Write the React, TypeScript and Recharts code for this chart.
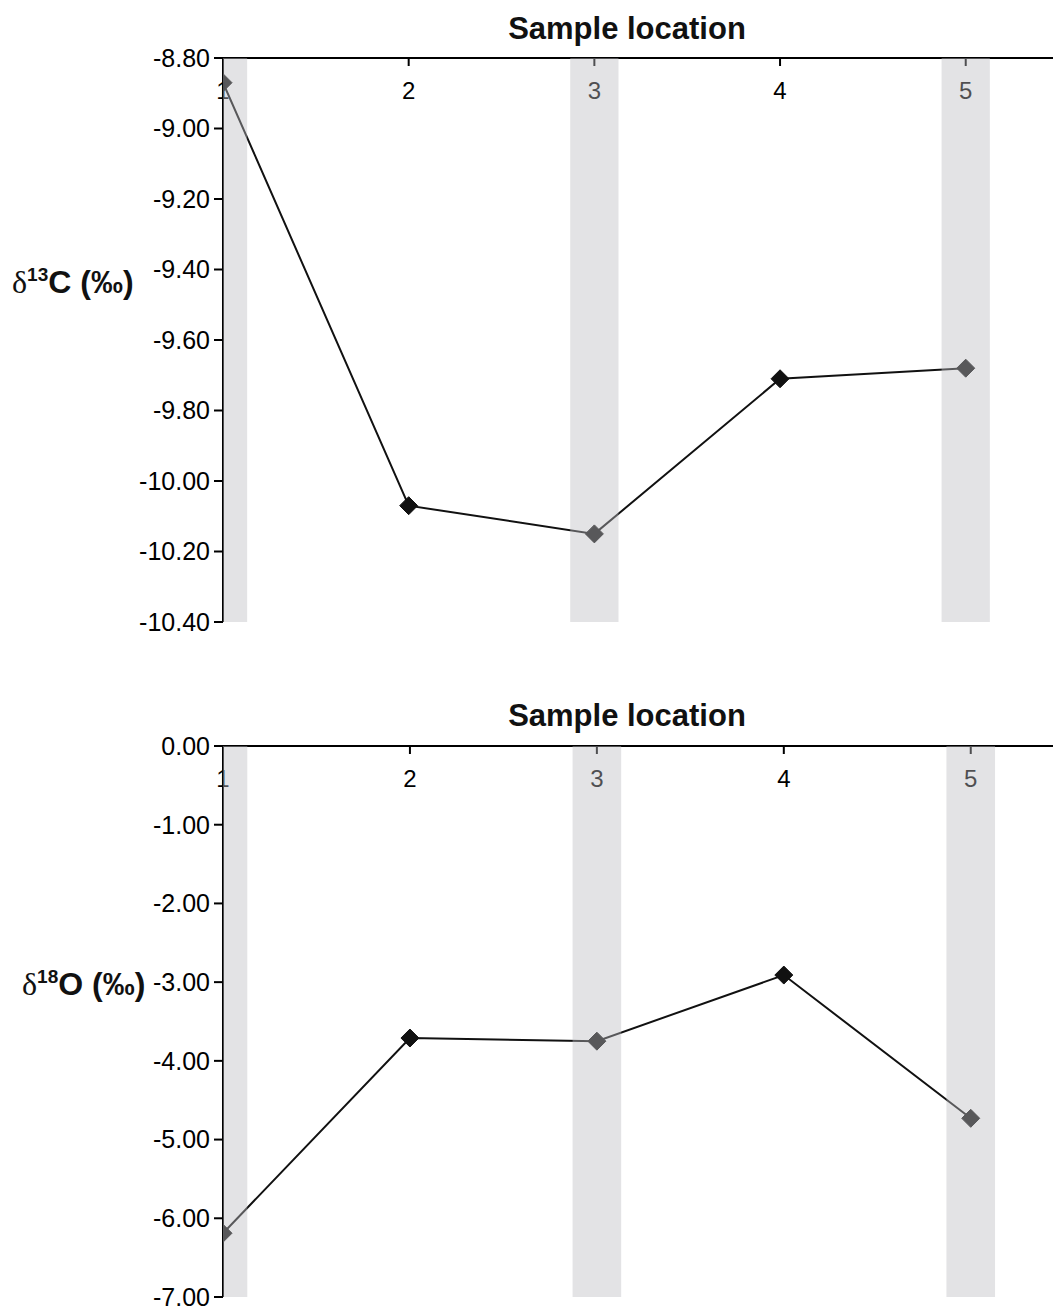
import React from "react";
import { LineChart, Line, XAxis, YAxis, ReferenceArea } from "recharts";

const sites = [1, 2, 3, 4, 5];
const carbon = [-8.87, -10.07, -10.15, -9.71, -9.68];
const oxygen = [-6.19, -3.71, -3.75, -2.91, -4.73];
const carbonTicks = [-8.8, -9.0, -9.2, -9.4, -9.6, -9.8, -10.0, -10.2, -10.4];
const oxygenTicks = [0, -1, -2, -3, -4, -5, -6, -7];
const shadedSites = [1, 3, 5];
const bandHalf = 0.13;

const FONT = "'Liberation Sans', Arial, sans-serif";

const carbonData = sites.map((s, i) => ({ site: s, v: carbon[i] }));
const oxygenData = sites.map((s, i) => ({ site: s, v: oxygen[i] }));

// diamond marker
const Diamond = (props: any) => {
  const { cx, cy } = props;
  if (cx == null || cy == null) return null;
  const r = 9;
  return (
    <path
      d={`M${cx},${cy - r} L${cx + r},${cy} L${cx},${cy + r} L${cx - r},${cy} Z`}
      fill="#111"
      stroke="#111"
      strokeWidth={1}
    />
  );
};

function Panel({
  data, ticks, domain, xMax, height, margin,
}: {
  data: { site: number; v: number }[];
  ticks: number[];
  domain: [number, number];
  xMax: number;
  height: number;
  margin: { top: number; right: number; bottom: number; left: number };
}) {
  return (
    <LineChart width={1053} height={height} data={data} margin={margin}>
      <XAxis
        xAxisId={0}
        dataKey="site"
        type="number"
        orientation="top"
        mirror
        domain={[1, xMax]}
        ticks={sites}
        allowDataOverflow
        axisLine={{ stroke: "#000", strokeWidth: 2 }}
        tickLine={{ stroke: "#000", strokeWidth: 2 }}
        tickSize={8}
        tickMargin={16}
        tick={{ fontSize: 24, fill: "#000", fontFamily: FONT }}
      />
      <YAxis
        yAxisId={0}
        type="number"
        domain={domain}
        ticks={ticks}
        interval={0}
        width={120}
        allowDataOverflow
        tickFormatter={(v: number) => v.toFixed(2)}
        axisLine={{ stroke: "#000", strokeWidth: 2 }}
        tickLine={{ stroke: "#000", strokeWidth: 2 }}
        tickSize={9}
        tickMargin={4}
        tick={{ fontSize: 25, fill: "#000", fontFamily: FONT }}
      />
      <Line
        type="linear"
        dataKey="v"
        stroke="#111"
        strokeWidth={2}
        dot={<Diamond />}
        activeDot={false}
        isAnimationActive={false}
      />
      {shadedSites.map((s) => (
        <ReferenceArea
          key={s}
          x1={s - bandHalf}
          x2={s + bandHalf}
          ifOverflow="hidden"
          fill="#bdbdc0"
          fillOpacity={0.42}
          stroke="none"
          zIndex={2000}
        />
      ))}
    </LineChart>
  );
}

const titleStyle: React.CSSProperties = {
  position: "absolute",
  left: 327,
  width: 600,
  textAlign: "center",
  fontFamily: FONT,
  fontWeight: "bold",
  fontSize: 31,
  lineHeight: 1,
  color: "#111",
};

const labelStyle: React.CSSProperties = {
  position: "absolute",
  fontFamily: FONT,
  fontWeight: "bold",
  fontSize: 32,
  lineHeight: 1,
  color: "#111",
  whiteSpace: "nowrap",
};

function AxisName({ iso, el, left, top }: { iso: string; el: string; left: number; top: number }) {
  return (
    <div style={{ ...labelStyle, left, top }}>
      <span style={{ fontFamily: "'Liberation Serif', 'Times New Roman', serif", fontWeight: "normal" }}>δ</span>
      <span style={{ fontSize: 19, position: "relative", top: -12 }}>{iso}</span>
      {el} (‰)
    </div>
  );
}

export default function App() {
  return (
    <div style={{ position: "absolute", left: 0, top: 0, width: 1053, height: 1312, background: "#fff" }}>
      <div style={{ position: "absolute", left: 0, top: 0 }}>
        <Panel
          data={carbonData}
          ticks={carbonTicks}
          domain={[-10.4, -8.8]}
          xMax={5.47}
          height={650}
          margin={{ top: 58, right: 0, bottom: 28, left: 103 }}
        />
      </div>
      <div style={{ position: "absolute", left: 0, top: 650 }}>
        <Panel
          data={oxygenData}
          ticks={oxygenTicks}
          domain={[-7, 0]}
          xMax={5.44}
          height={662}
          margin={{ top: 96, right: 0, bottom: 15, left: 103 }}
        />
      </div>
      <div style={{ ...titleStyle, top: 13 }}>Sample location</div>
      <div style={{ ...titleStyle, top: 700 }}>Sample location</div>
      <AxisName iso="13" el="C" left={12} top={266} />
      <AxisName iso="18" el="O" left={22} top={968} />
    </div>
  );
}
